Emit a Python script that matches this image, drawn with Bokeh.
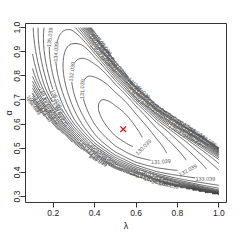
import numpy as np
from contourpy import contour_generator
from bokeh.plotting import figure
from bokeh.models import ColumnDataSource, FixedTicker, PrintfTickFormatter
from bokeh.core.properties import value
from bokeh.embed import file_html
from bokeh.resources import INLINE

# ---------------- values ----------------
lam_limits = [0.1, 1.0]
alpha_limits = [0.3, 1.0]
lam_hat = 0.538          # red cross (minimum)
alpha_hat = 0.579
surface_min = 129.539
contour_levels = [130.039 + i for i in range(70)]

# edges of the region where the surface is defined
lower_edge_lam   = [0.10, 0.20, 0.30, 0.40, 0.50, 0.60, 0.70, 0.80, 0.90, 1.00]
lower_edge_alpha = [0.668, 0.585, 0.508, 0.447, 0.405, 0.375, 0.352, 0.334, 0.318, 0.303]
upper_edge_lam   = [0.10, 0.20, 0.30, 0.40, 0.50, 0.60, 0.70, 0.80, 0.90, 1.00]
upper_edge_alpha = [1.45, 1.28, 1.13, 0.995, 0.873, 0.772, 0.69, 0.63, 0.57, 0.51]
# relative position of the valley floor across the band
floor_lam = [0.10, 0.538, 1.00]
floor_pos = [0.45, 0.424, 0.30]
# rise of the surface along the valley and against the walls
rise_right_scale, rise_right_height = 0.08, 0.8
rise_left_coef, rise_left_power = 53.0, 2.2
wall_base = 6.5
wall_start = 0.55
wall_upper, wall_lower = 62.0, 42.0
wall_cut = 0.97

# labelled contours
label_levels = [130.039, 131.039, 132.039, 133.039, 131.039, 132.039, 134.039, 135.039]
label_lam    = [0.633, 0.72, 0.85, 0.933, 0.362, 0.29, 0.214, 0.205]
label_alpha  = [0.51, 0.45, 0.41, 0.37, 0.746, 0.817, 0.90, 0.96]

x_ticks = [0.2, 0.4, 0.6, 0.8, 1.0]
y_ticks = [0.3, 0.4, 0.5, 0.6, 0.7, 0.8, 0.9, 1.0]
x_title = "λ"
y_title = "α"

# ---------------- surface ----------------
xg = np.linspace(lam_limits[0], lam_limits[1], 181)
yg = np.linspace(alpha_limits[0], alpha_limits[1], 141)
X, Y = np.meshgrid(xg, yg)
yL = np.interp(X, lower_edge_lam, lower_edge_alpha)
yU = np.interp(X, upper_edge_lam, upper_edge_alpha)
v = (Y - yL) / (yU - yL)
v0 = np.interp(X, floor_lam, floor_pos)
above = v >= v0
t = np.where(above, (v - v0) / (1 - v0), (v0 - v) / v0)
K = np.where(above, wall_upper, wall_lower)
tt = np.clip(t, 0, 1.2)
h = wall_base * tt ** 2 + K * np.clip(tt - wall_start, 0, None) ** 2
dx = X - lam_hat
g = np.where(dx > 0,
             rise_right_height * (np.sqrt(1 + (dx / rise_right_scale) ** 2) - 1),
             rise_left_coef * np.abs(dx) ** rise_left_power)
Z = surface_min + g + h
Z = np.ma.masked_where((t >= wall_cut) | (v <= 0) | (v >= 1), Z)

cg = contour_generator(xg, yg, Z)
pieces = {lev: [np.asarray(l) for l in cg.lines(lev)] for lev in contour_levels}

# ---------------- figure ----------------
FW, FH = 201, 179
x_range = (0.066, 1.037)
y_range = (0.275, 1.017)
SX = FW / (x_range[1] - x_range[0])
SY = FH / (y_range[1] - y_range[0])

GAP = 9.5
labels = {"x": [], "y": [], "angle": [], "text": []}


def place(lev, ax, ay, maxdist=None):
    lines = pieces[lev]
    best = None
    for i, ln in enumerate(lines):
        if len(ln) < 4:
            continue
        d = np.hypot((ln[:, 0] - ax) * SX, (ln[:, 1] - ay) * SY)
        j = int(np.argmin(d))
        if best is None or d[j] < best[0]:
            best = (d[j], i, j)
    if best is None:
        return False
    if maxdist is not None and best[0] > maxdist:
        return False
    _, i, j = best
    ln = lines[i]
    cx, cy = ln[j]
    j0, j1 = max(j - 4, 0), min(j + 4, len(ln) - 1)
    ang = np.arctan2((ln[j1, 1] - ln[j0, 1]) * SY, (ln[j1, 0] - ln[j0, 0]) * SX)
    if ang > np.pi / 2:
        ang -= np.pi
    elif ang < -np.pi / 2:
        ang += np.pi
    d = np.hypot((ln[:, 0] - cx) * SX, (ln[:, 1] - cy) * SY)
    keep = d > GAP
    new, run = [], []
    for k in range(len(ln)):
        if keep[k]:
            run.append(ln[k])
        else:
            if len(run) > 1:
                new.append(np.array(run))
            run = []
    if len(run) > 1:
        new.append(np.array(run))
    lines[i:i + 1] = new
    labels["x"].append(cx)
    labels["y"].append(cy)
    labels["angle"].append(ang)
    labels["text"].append(f"{lev:.3f}")
    return True


for lev, la, al in zip(label_levels, label_lam, label_alpha):
    place(lev, la, al)

# crowded labels in the steep walls (rows stepping along the walls)
rows = [((0.40, 0.93), (0.718, -0.696)), ((0.60, 0.76), (0.718, -0.696)),
        ((0.80, 0.63), (0.718, -0.696)),
        ((0.13, 0.70), (0.91, -0.415)), ((0.36, 0.50), (0.91, -0.415)),
        ((0.62, 0.41), (0.91, -0.415))]
for k, lev in enumerate(contour_levels):
    if lev < 136:
        continue
    for (bx, by), (ux, uy) in rows:
        s = (k % 5) * 8.0
        place(lev, bx + s * ux / SX, by + s * uy / SY, maxdist=14)

xs, ys = [], []
for lev in contour_levels:
    for ln in pieces[lev]:
        xs.append(ln[:, 0].tolist())
        ys.append(ln[:, 1].tolist())

p = figure(frame_width=FW, frame_height=FH, x_range=x_range, y_range=y_range,
           output_backend="svg", toolbar_location=None,
           min_border_left=24, min_border_right=8, min_border_top=23,
           min_border_bottom=32)
p.background_fill_color = "white"
p.border_fill_color = "white"
p.xgrid.visible = False
p.ygrid.visible = False
p.outline_line_color = "#333333"
p.outline_line_width = 1

p.multi_line(xs, ys, line_color="#222222", line_width=0.7)
p.text(x="x", y="y", text="text", angle="angle", source=ColumnDataSource(labels),
       text_align="center", text_baseline="middle", text_font=value("Liberation Sans"),
       text_font_size="5.5px", text_color="#555555")
p.scatter([lam_hat], [alpha_hat], marker="x", size=8, line_color="red", line_width=1.2)

for ax, ticks in ((p.xaxis, x_ticks), (p.yaxis, y_ticks)):
    ax.ticker = FixedTicker(ticks=ticks)
    ax.formatter = PrintfTickFormatter(format="%.1f")
    ax.minor_tick_line_color = None
    ax.major_tick_out = 5
    ax.major_tick_in = 0
    ax.major_tick_line_color = "#333333"
    ax.axis_line_color = None
    ax.major_label_text_font = "Liberation Sans"
    ax.major_label_text_font_size = "8.5px"
    ax.major_label_text_color = "#222222"
    ax.major_label_standoff = 2
    ax.axis_label_text_font = "Liberation Sans"
    ax.axis_label_text_font_size = "9px"
    ax.axis_label_text_font_style = "normal"
    ax.axis_label_text_color = "#222222"
    ax.axis_label_standoff = 2
p.xaxis.axis_label = x_title
p.yaxis.axis_label = y_title
p.yaxis.major_label_orientation = "vertical"
p.yaxis.major_label_standoff = 0
p.yaxis.axis_label_standoff = -2

open("out.html", "w").write(file_html(p, INLINE))
